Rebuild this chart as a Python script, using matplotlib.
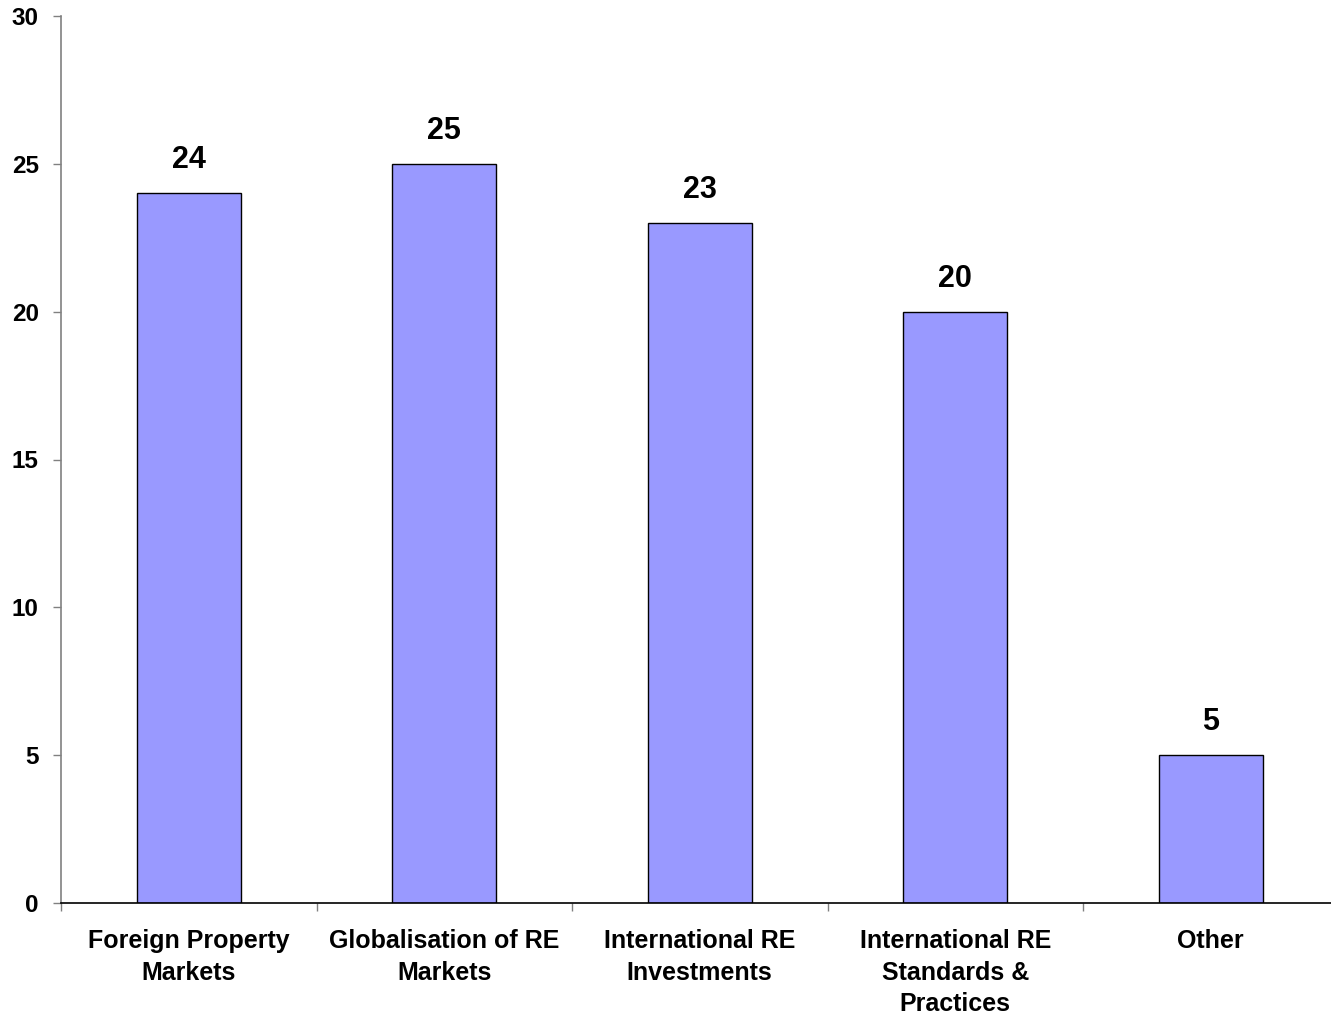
import matplotlib
matplotlib.use("Agg")
import matplotlib.pyplot as plt
import numpy as np

categories = ["Foreign Property\nMarkets", "Globalisation of RE\nMarkets",
              "International RE\nInvestments", "International RE\nStandards &\nPractices", "Other"]
values = [24, 25, 23, 20, 5]
yticks = [0, 5, 10, 15, 20, 25, 30]

plt.rcParams['font.family'] = ['Liberation Sans', 'DejaVu Sans']

fig = plt.figure(figsize=(13.31, 10.17), dpi=100)
W, H = 1331, 1017
left, right, top, bottom = 61, 1338.5, 16, 903
ax = fig.add_axes([left / W, 1 - bottom / H, (right - left) / W, (bottom - top) / H])

x = np.arange(len(categories))
bars = ax.bar(x, values, width=0.407, color="#9999FF", edgecolor="black", linewidth=1.0, zorder=3)
for xi, v in zip(x, values):
    ax.annotate(str(v), (xi, v), xytext=(0, 13), textcoords="offset points",
                ha="center", va="bottom", fontsize=22, fontweight="bold")

ax.set_xlim(-0.5, len(categories) - 0.5)
ax.set_ylim(0, 30)
ax.set_yticks(yticks)
ax.set_yticklabels([str(t) for t in yticks], fontsize=17.5, fontweight="bold")
ax.tick_params(axis="y", direction="out", length=6, width=1, color="#808080", pad=10)

ax.set_xticks(x)
ax.set_xticklabels(categories, fontsize=18, fontweight="bold", linespacing=1.38)
ax.tick_params(axis="x", which="major", length=0, pad=19)
ax.set_xticks(np.arange(len(categories) + 1) - 0.5, minor=True)
ax.tick_params(axis="x", which="minor", direction="out", length=6, width=1, color="#808080")

for s in ["top", "right"]:
    ax.spines[s].set_visible(False)
ax.spines["left"].set_color("#808080")
ax.spines["left"].set_linewidth(1.2)
ax.spines["bottom"].set_color("black")
ax.spines["bottom"].set_linewidth(1.2)
ax.spines["bottom"].set_zorder(4)

fig.savefig("out.png", dpi=100)
